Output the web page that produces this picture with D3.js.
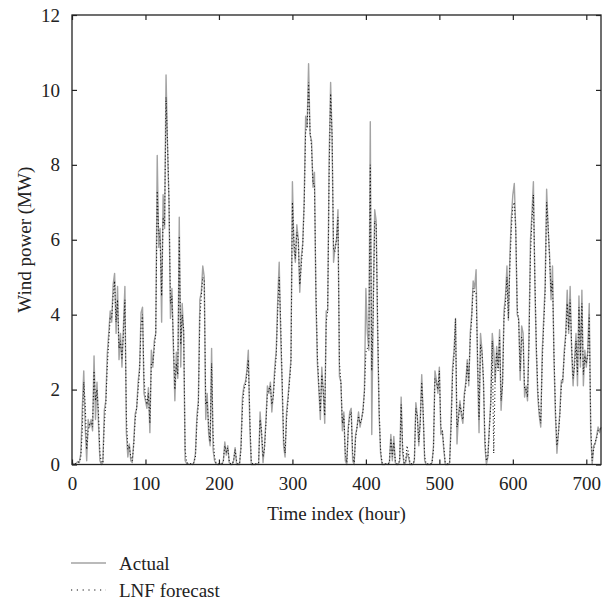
<!DOCTYPE html>
<html>
<head>
<meta charset="utf-8">
<script src="https://cdn.jsdelivr.net/npm/d3@7"></script>
<style>
  body { margin: 0; background: #fff; }
  text { font-family: "Liberation Serif", "DejaVu Serif", serif; fill: #222; }
</style>
</head>
<body>
<div id="chart"></div>
<script>
// one value every 2 hours
const stepHours = 2;

const actual = [
  0.05, 0.02, 0.02, 0.04, 0.08, 0.05, 0.3, 1.5, 2.5, 1.0,
  0.1, 1.2, 1.0, 1.2, 0.9, 2.9, 1.2, 2.2, 1.1, 0.1,
  0.0, 0.05, 1.45, 1.7, 2.95, 3.5, 4.1, 3.8, 4.8, 5.1,
  3.5, 4.75, 2.8, 3.5, 2.6, 3.7, 4.75, 0.85, 0.2, 0.55,
  0.1, 0.05, 0.6, 1.35, 1.5, 2.2, 2.6, 4.05, 4.2, 1.9,
  1.7, 1.5, 2.05, 0.85, 3.05, 2.6, 3.3, 3.5, 8.25, 5.8,
  6.3, 3.8, 7.2, 6.3, 10.4, 8.5, 7.0, 3.9, 4.7, 3.1,
  1.7, 3.0, 2.3, 6.6, 2.6, 4.3, 3.5, 0.1, 0.03, 0.02,
  0.0, 0.02, 0.0, 0.05, 0.3, 1.3, 1.7, 4.4, 4.6, 5.3,
  5.0, 1.2, 1.9, 0.8, 0.5, 3.1, 0.4, 0.1, 0.02, 0.0,
  0.0, 0.02, 0.0, 0.1, 0.6, 0.25, 0.5, 0.05, 0.0, 0.0,
  0.1, 0.45, 0.0, 0.0, 0.0, 0.5, 1.8, 2.1, 2.2, 2.5,
  3.05, 1.0, 0.0, 0.0, 0.0, 0.0, 0.02, 0.0, 1.4, 0.8,
  0.05, 0.5, 1.2, 2.1, 1.9, 2.2, 1.4, 1.9, 2.6, 3.05,
  4.4, 5.4, 3.5, 2.1, 0.5, 0.2, 1.4, 1.8, 2.3, 2.8,
  7.55, 5.8, 5.4, 6.4, 6.0, 4.6, 5.5, 5.9, 7.05, 9.3,
  9.0, 10.7, 8.8, 8.65, 7.4, 7.8, 4.4, 2.7, 2.0, 1.2,
  2.6, 1.9, 1.1, 4.1, 4.1, 8.2, 10.2, 8.7, 5.4, 5.8,
  6.0, 6.8, 2.35, 2.2, 0.9, 1.4, 0.1, 0.0, 1.0, 1.4,
  1.5, 0.1, 0.0, 0.8, 1.0, 1.4, 1.0, 1.2, 1.45, 2.0,
  4.7, 3.5, 3.05, 9.15, 0.8, 4.4, 6.8, 6.5, 3.5, 1.3,
  0.3, 0.0, 0.0, 0.0, 0.02, 0.0, 0.05, 0.8, 0.1, 0.75,
  0.05, 0.0, 0.0, 0.1, 1.8, 0.3, 0.0, 0.05, 0.3, 0.2,
  0.0, 0.0, 0.0, 0.1, 1.65, 1.3, 0.5, 1.2, 2.4, 1.3,
  0.1, 0.0, 0.0, 0.0, 0.0, 0.05, 0.5, 2.5, 2.25, 1.9,
  2.6, 0.8, 0.9, 0.4, 0.0, 0.0, 0.0, 0.05, 1.2, 2.6,
  3.05, 3.9, 0.55, 1.3, 1.7, 1.3, 1.1, 1.9, 2.2, 2.8,
  2.1, 3.5, 4.0, 4.9, 4.7, 5.2, 2.6, 0.85, 3.5, 3.05,
  2.2, 0.5, 0.0, 0.2, 1.0, 1.7, 3.5, 3.05, 2.2, 3.15,
  2.6, 3.6, 1.45, 2.2, 4.1, 4.5, 5.3, 3.85, 5.6, 6.6,
  7.2, 7.5, 6.2, 4.0, 3.9, 2.25, 3.7, 3.5, 1.8, 2.1,
  1.7, 3.5, 6.0, 6.7, 7.55, 4.8, 3.0, 1.8, 1.3, 1.0,
  3.0, 3.9, 4.8, 7.35, 6.3, 5.6, 4.4, 5.3, 2.8, 1.3,
  0.3, 0.85, 1.4, 2.25, 2.2, 3.05, 3.5, 4.65, 3.5, 4.75,
  3.05, 2.1, 2.8, 3.5, 2.1, 4.5, 2.6, 4.65, 2.1, 3.05,
  2.6, 3.05, 4.3, 0.85, 0.0, 0.5, 0.55, 0.75, 1.0, 0.85,
  1.0
];

const lnfForecast = [
  0.05, 0.04, 0.02, 0.03, 0.06, 0.07, 0.2, 0.9, 2.2, 1.6,
  0.4, 0.9, 1.1, 1.1, 1.0, 2.5, 1.7, 2.0, 1.4, 0.3,
  0.05, 0.05, 1.1, 1.6, 2.6, 3.3, 3.9, 3.9, 4.5, 4.9,
  3.8, 4.4, 3.1, 3.3, 2.8, 3.5, 4.4, 1.3, 0.4, 0.5,
  0.2, 0.1, 0.5, 1.2, 1.5, 2.0, 2.5, 3.7, 4.0, 2.3,
  1.8, 1.6, 1.9, 1.1, 2.7, 2.7, 3.1, 3.5, 7.3, 6.2,
  6.0, 4.5, 6.6, 6.4, 9.8, 8.6, 7.1, 4.3, 4.5, 3.3,
  2.0, 2.7, 2.4, 6.1, 3.2, 4.0, 3.6, 0.4, 0.05, 0.03,
  0.02, 0.02, 0.02, 0.05, 0.2, 1.1, 1.6, 3.9, 4.5, 5.0,
  4.9, 1.6, 1.7, 1.0, 0.6, 2.7, 0.8, 0.2, 0.05, 0.02,
  0.02, 0.02, 0.02, 0.1, 0.5, 0.35, 0.45, 0.1, 0.02, 0.02,
  0.1, 0.4, 0.1, 0.02, 0.02, 0.4, 1.5, 2.0, 2.1, 2.4,
  2.8, 1.3, 0.1, 0.02, 0.02, 0.02, 0.02, 0.05, 1.2, 0.9,
  0.2, 0.4, 1.1, 1.9, 2.0, 2.1, 1.6, 1.8, 2.4, 2.9,
  4.1, 5.0, 3.8, 2.3, 0.7, 0.3, 1.2, 1.7, 2.2, 2.7,
  7.0, 6.0, 5.5, 6.2, 6.0, 4.8, 5.3, 5.8, 6.9, 8.9,
  9.0, 10.2, 8.9, 8.5, 7.5, 7.5, 4.7, 2.9, 2.1, 1.4,
  2.4, 2.0, 1.3, 3.8, 4.1, 7.8, 9.9, 8.8, 5.7, 5.7,
  6.0, 6.6, 2.7, 2.2, 1.1, 1.3, 0.3, 0.05, 0.9, 1.3,
  1.4, 0.3, 0.05, 0.7, 1.0, 1.3, 1.1, 1.2, 1.4, 1.9,
  3.0, 3.1, 3.2, 8.0, 2.5, 4.0, 6.5, 6.4, 3.8, 1.5,
  0.4, 0.05, 0.02, 0.02, 0.02, 0.02, 0.05, 0.7, 0.2, 0.6,
  0.1, 0.02, 0.02, 0.1, 1.6, 0.5, 0.05, 0.05, 0.5, 0.3,
  0.05, 0.02, 0.02, 0.1, 1.5, 1.3, 0.6, 1.1, 2.2, 1.4,
  0.2, 0.02, 0.02, 0.02, 0.02, 0.05, 0.4, 2.3, 2.2, 2.0,
  2.5, 1.0, 0.9, 0.5, 0.05, 0.02, 0.02, 0.05, 1.0, 2.4,
  2.9, 3.9, 1.0, 1.2, 1.6, 1.4, 1.2, 1.8, 2.1, 2.7,
  2.2, 3.3, 3.9, 4.7, 4.6, 4.6, 2.9, 1.2, 3.2, 3.0,
  2.3, 0.7, 0.1, 0.2, 0.9, 1.6, 3.3, 0.3, 2.4, 3.0,
  2.5, 3.4, 1.7, 2.1, 3.9, 4.3, 5.0, 3.9, 5.3, 6.3,
  6.9, 7.0, 6.3, 4.2, 3.8, 2.5, 3.4, 3.3, 2.0, 2.0,
  1.8, 3.2, 5.6, 6.5, 7.2, 5.0, 3.2, 2.0, 1.4, 1.1,
  2.7, 3.7, 4.6, 7.0, 6.4, 5.5, 4.6, 4.9, 3.0, 1.5,
  0.5, 0.8, 1.3, 2.1, 2.3, 2.9, 3.4, 4.3, 3.6, 4.4,
  3.2, 2.3, 2.6, 3.3, 2.4, 4.2, 2.8, 4.3, 2.4, 2.9,
  2.7, 2.9, 4.0, 1.1, 0.1, 0.4, 0.6, 0.7, 0.9, 0.9,
  1.0
];

const xTicks = [0, 100, 200, 300, 400, 500, 600, 700];
const yTicks = [0, 2, 4, 6, 8, 10, 12];
const legendLabels = ["Actual", "LNF forecast"];

const W = 611, H = 606;
const plotLeft = 72, plotRight = 601, plotTop = 15, plotBottom = 464.5;

const svg = d3.select("#chart").append("svg")
  .attr("width", W)
  .attr("height", H);

const x = d3.scaleLinear().domain([0, 720]).range([plotLeft, plotRight]);
const y = d3.scaleLinear().domain([0, 12]).range([plotBottom, plotTop]);

const line = d3.line()
  .x((d, i) => x(i * stepHours))
  .y(d => y(d));

const actualColor = "#a3a3a3";

svg.append("path")
  .datum(actual)
  .attr("d", line)
  .attr("fill", "none")
  .attr("stroke", actualColor)
  .attr("stroke-width", 1.4)
  .attr("stroke-linejoin", "round");

svg.append("path")
  .datum(lnfForecast)
  .attr("d", line)
  .attr("fill", "none")
  .attr("stroke", "#111")
  .attr("stroke-width", 1.1)
  .attr("stroke-dasharray", "1,2.4");

// axes, ticks pointing inward on all four sides
const fontSize = 19;

const gx = svg.append("g")
  .attr("transform", `translate(0,${plotBottom})`)
  .call(d3.axisBottom(x).tickValues(xTicks).tickSizeInner(-5).tickSizeOuter(0).tickPadding(12));
const gy = svg.append("g")
  .attr("transform", `translate(${plotLeft},0)`)
  .call(d3.axisLeft(y).tickValues(yTicks).tickSizeInner(-5).tickSizeOuter(0).tickPadding(12));
const gt = svg.append("g")
  .attr("transform", `translate(0,${plotTop})`)
  .call(d3.axisTop(x).tickValues(xTicks).tickSizeInner(-5).tickSizeOuter(0).tickFormat(""));
const gr = svg.append("g")
  .attr("transform", `translate(${plotRight},0)`)
  .call(d3.axisRight(y).tickValues(yTicks).tickSizeInner(-5).tickSizeOuter(0).tickFormat(""));

[gx, gy, gt, gr].forEach(g => {
  g.select(".domain").remove();
  g.selectAll(".tick line").attr("stroke", "#222").attr("stroke-width", 1.2);
  g.selectAll(".tick text")
    .attr("font-family", "Liberation Serif, DejaVu Serif, serif")
    .attr("font-size", fontSize)
    .attr("fill", "#222");
});

svg.append("rect")
  .attr("x", plotLeft)
  .attr("y", plotTop)
  .attr("width", plotRight - plotLeft)
  .attr("height", plotBottom - plotTop)
  .attr("fill", "none")
  .attr("stroke", "#222")
  .attr("stroke-width", 1.3);

svg.append("text")
  .attr("x", (plotLeft + plotRight) / 2)
  .attr("y", 520)
  .attr("text-anchor", "middle")
  .attr("font-size", fontSize)
  .text("Time index (hour)");

svg.append("text")
  .attr("transform", `translate(31,${(plotTop + plotBottom) / 2}) rotate(-90)`)
  .attr("text-anchor", "middle")
  .attr("font-size", fontSize)
  .text("Wind power (MW)");

// legend
const legend = svg.append("g").attr("transform", "translate(71,563)");
const legendStyles = [
  { stroke: actualColor, dash: null, width: 1.4 },
  { stroke: "#111", dash: "1.2,4.6", width: 1.1 }
];
legendLabels.forEach((label, i) => {
  const row = legend.append("g").attr("transform", `translate(0,${i * 27})`);
  row.append("line")
    .attr("x1", 0).attr("x2", 35)
    .attr("y1", 0).attr("y2", 0)
    .attr("stroke", legendStyles[i].stroke)
    .attr("stroke-width", legendStyles[i].width)
    .attr("stroke-dasharray", legendStyles[i].dash);
  row.append("text")
    .attr("x", 48)
    .attr("y", 7)
    .attr("font-size", fontSize)
    .text(label);
});
</script>
</body>
</html>
